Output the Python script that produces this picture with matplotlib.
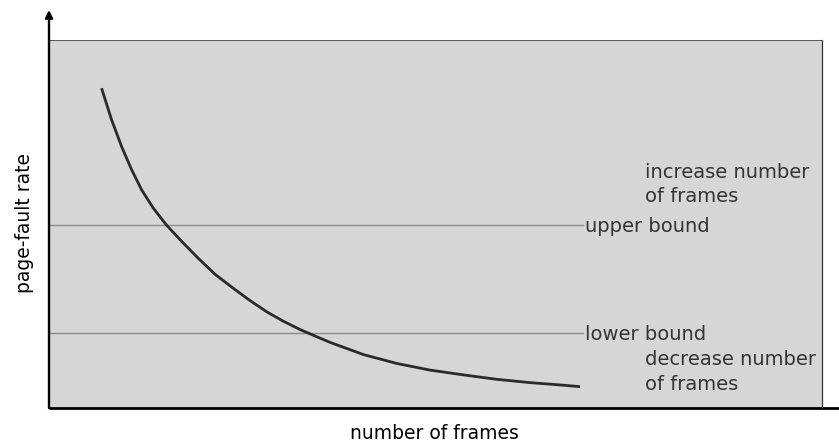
import matplotlib
matplotlib.use("Agg")
import matplotlib.pyplot as plt

# curve (axis units 0..100 on both axes)
frames = [6.8, 8.1, 9.4, 10.7, 12.0, 13.5, 15.2, 17.2, 19.3, 21.5, 23.8, 26.0,
          28.2, 30.3, 32.5, 34.6, 36.4, 40.7, 45.0, 49.3, 53.6, 57.9, 62.2,
          66.5, 68.7]
fault_rate = [86.9, 78.3, 71.0, 64.7, 59.2, 54.3, 49.7, 45.2, 40.7, 36.3, 32.6, 29.2,
              26.1, 23.6, 21.3, 19.4, 17.8, 14.5, 12.1, 10.3, 9.0, 7.8, 6.9,
              6.2, 5.8]

upper_bound = 49.7
lower_bound = 20.4
bound_end = 69.1

upper_labels = ["increase number", "of frames"]
lower_labels = ["decrease number", "of frames"]

def main():
    plt.rcParams['font.family'] = 'DejaVu Sans'

    fig = plt.figure(figsize=(8.39, 4.42), dpi=100)
    ax = fig.add_axes([49/839, 1-408/442, 773/839, 368/442])
    ax.set_facecolor('#d6d6d6')
    ax.set_xlim(0, 100)
    ax.set_ylim(0, 100)
    ax.set_xticks([])
    ax.set_yticks([])

    # spines
    ax.spines['top'].set_color('#555555')
    ax.spines['top'].set_linewidth(0.7)
    ax.spines['right'].set_color('#333333')
    ax.spines['right'].set_linewidth(0.9)
    ax.spines['left'].set_visible(False)
    ax.spines['bottom'].set_visible(False)

    # y axis with arrow, x axis running past the box
    ax.annotate('', xy=(0, 1 + 30/368), xytext=(0, 0), xycoords='axes fraction',
                arrowprops=dict(arrowstyle='-|>', color='black', lw=1.7,
                                mutation_scale=11, shrinkA=0, shrinkB=0))
    ax.plot([0, 1.03], [0, 0], transform=ax.transAxes, color='black', lw=2.0,
            clip_on=False, solid_capstyle='butt')

    # bounds
    ax.plot([0, bound_end], [upper_bound, upper_bound], color='#8a8a8a', lw=1.0)
    ax.plot([0, bound_end], [lower_bound, lower_bound], color='#8a8a8a', lw=1.0)

    # page-fault curve
    ax.plot(frames, fault_rate, color='#2a2a2a', lw=2.0, solid_capstyle='butt',
            solid_joinstyle='round')

    fs = 14
    ax.text(69.4, 47.8, "upper bound", fontsize=fs, color='#333333', va='baseline')
    ax.text(69.4, 18.5, "lower bound", fontsize=fs, color='#333333', va='baseline')
    ax.text(77.1, 62.5, upper_labels[0], fontsize=fs, color='#333333', va='baseline')
    ax.text(77.1, 56.0, upper_labels[1], fontsize=fs, color='#333333', va='baseline')
    ax.text(77.1, 11.7, lower_labels[0], fontsize=fs, color='#333333', va='baseline')
    ax.text(77.1, 4.9, lower_labels[1], fontsize=fs, color='#333333', va='baseline')

    fig.text(434/839, 1-439/442, "number of frames", fontsize=13.5,
             ha='center', va='baseline')
    fig.text(25/839, 1-223/442, "page-fault rate", fontsize=13.5,
             ha='center', va='center', rotation=90)

    fig.savefig("out.png", dpi=100)

if __name__ == "__main__":
    main()
